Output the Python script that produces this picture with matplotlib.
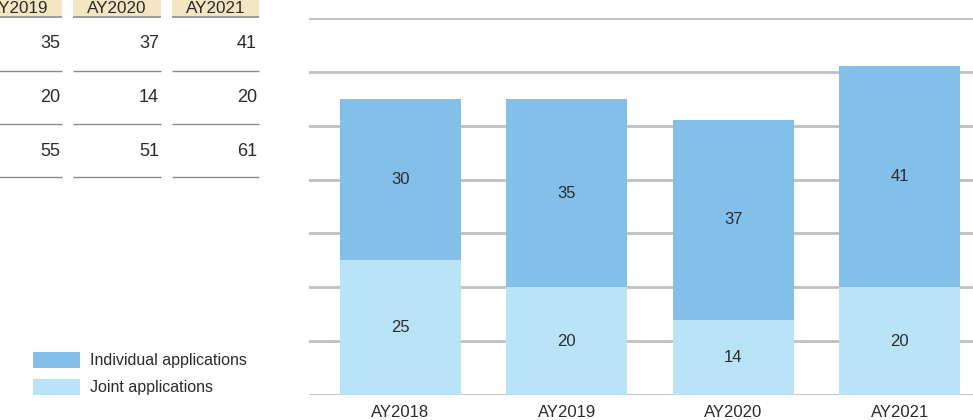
import numpy as np
import matplotlib
matplotlib.use("Agg")
import matplotlib.pyplot as plt
from matplotlib.patches import Rectangle

plt.rcParams["font.family"] = ["Liberation Sans", "DejaVu Sans"]

# chart data
years = ["AY2018", "AY2019", "AY2020", "AY2021"]
individual = [30, 35, 37, 41]
joint = [25, 20, 14, 20]

# table on the left (only the last three columns are visible)
table_years = ["AY2019", "AY2020", "AY2021"]
table_individual = [35, 37, 41]
table_joint = [20, 14, 20]
table_total = [55, 51, 61]

c_ind = "#82c0ea"
c_joint = "#b9e4f8"
c_text = "#2b2b2b"
c_grid = "#c0c0c4"

W, H = 973, 420
fig = plt.figure(figsize=(W / 100, H / 100), dpi=100)

# --- table + legend, drawn in pixel coords
ax_t = fig.add_axes([0, 0, 1, 1])
ax_t.set_xlim(0, W)
ax_t.set_ylim(H, 0)
ax_t.axis("off")

col_spans = [(-25, 62), (73, 161), (172, 259)]
row_y = [44, 98, 152]
line_y = [71, 124, 177]
rows = [table_individual, table_joint, table_total]
for j, (x0, x1) in enumerate(col_spans):
    ax_t.add_patch(Rectangle((x0, -10), x1 - x0, 26, facecolor="#f5e6c3", edgecolor="none"))
    ax_t.plot([x0, x1], [16.5, 16.5], color="#8a8a8a", lw=1.2, solid_capstyle="butt")
    ax_t.text((x0 + x1) / 2, 13, table_years[j], ha="center", va="baseline",
              fontsize=12.3, color=c_text)
    for r, vals in enumerate(rows):
        ax_t.text(x1 - 2, row_y[r], str(vals[j]), ha="right", va="center",
                  fontsize=13, color=c_text)
        ax_t.plot([x0, x1], [line_y[r], line_y[r]], color="#8a8a8a", lw=1.0,
                  solid_capstyle="butt")

# legend
for k, (lab, col) in enumerate([("Individual applications", c_ind), ("Joint applications", c_joint)]):
    y0 = 352 + k * 27
    ax_t.add_patch(Rectangle((33, y0), 47, 16, facecolor=col, edgecolor="none"))
    ax_t.text(90, y0 + 8.5, lab, ha="left", va="center", fontsize=11.5, color=c_text)

# --- stacked bar chart
ax = fig.add_axes([309 / W, 1 - 395 / H, 1 - 309 / W, (395 - 18) / H])
x = np.arange(len(years))
w = 0.727
ax.bar(x, joint, w, color=c_joint, zorder=3)
ax.bar(x, individual, w, bottom=joint, color=c_ind, zorder=3)

for i in range(len(years)):
    ax.text(x[i], joint[i] / 2, str(joint[i]), ha="center", va="center",
            fontsize=12, color=c_text, zorder=4)
    ax.text(x[i], joint[i] + individual[i] / 2, str(individual[i]), ha="center",
            va="center", fontsize=12, color=c_text, zorder=4)

ax.set_xlim(-0.547, 3.44)
ax.set_ylim(0, 70)
ax.set_yticks(range(0, 71, 10))
ax.yaxis.grid(True, color=c_grid, lw=2.0)
ax.set_axisbelow(True)
ax.tick_params(axis="y", left=False, labelleft=False)
ax.tick_params(axis="x", bottom=False, pad=3.5, labelsize=12, labelcolor=c_text)
ax.set_xticks(x)
ax.set_xticklabels(years)
for s in ax.spines.values():
    s.set_visible(False)
ax.patch.set_alpha(0)

fig.savefig("out.png", dpi=100)
